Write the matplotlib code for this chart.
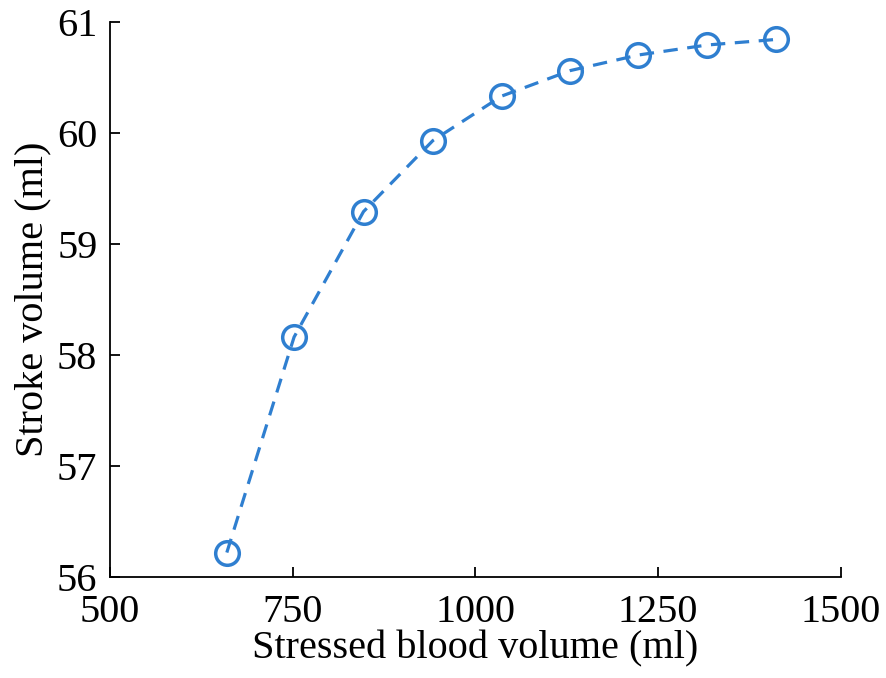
import matplotlib.pyplot as plt

plt.rcParams['font.family'] = ['Liberation Serif', 'DejaVu Serif']

blood_vol = [660, 752, 847, 942, 1036, 1130, 1223, 1317, 1411]
stroke_vol = [56.22, 58.16, 59.29, 59.93, 60.33, 60.56, 60.70, 60.79, 60.84]

fig = plt.figure(figsize=(8.86, 6.78), dpi=100)
ax = fig.add_axes([0.124, 0.149, 0.825, 0.819])

ax.plot(blood_vol, stroke_vol, '--o', color='#2F7FD0', linewidth=2.3,
        markersize=17, markerfacecolor='none', markeredgewidth=2.5,
        dashes=(4.5, 3))

ax.set_xlim(500, 1500)
ax.set_ylim(56, 61)
ax.set_xticks([500, 750, 1000, 1250, 1500])
ax.set_yticks([56, 57, 58, 59, 60, 61])
ax.spines['top'].set_visible(False)
ax.spines['right'].set_visible(False)
for s in ['left', 'bottom']:
    ax.spines[s].set_linewidth(1.3)
ax.tick_params(direction='in', length=7, width=1.3, labelsize=29)
ax.tick_params(axis='x', pad=12)
ax.tick_params(axis='y', pad=9)
ax.set_xlabel('Stressed blood volume (ml)', fontsize=29, labelpad=0)
ax.set_ylabel('Stroke volume (ml)', fontsize=29, labelpad=4)

fig.savefig('out.png', dpi=100)
